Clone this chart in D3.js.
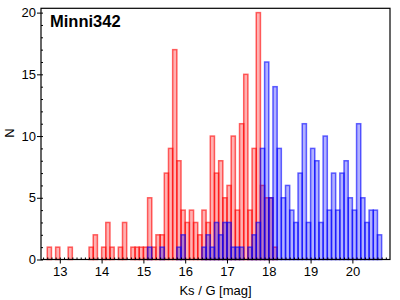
<!DOCTYPE html>
<html>
<head>
<meta charset="utf-8">
<script src="https://cdn.jsdelivr.net/npm/d3@7"></script>
<style>
  body { margin: 0; background: #fff; }
  text { font-family: "Liberation Sans", Arial, sans-serif; }
</style>
</head>
<body>
<script>
// Histogram values (bin width 0.1 mag, left bin edges)
var binWidth = 0.1;

var ksEdges  = [12.7, 12.9, 13.2, 13.7, 13.8, 14.0, 14.1, 14.2, 14.4, 14.5, 14.7, 14.8, 14.9, 15.0,
                15.1, 15.2, 15.3, 15.4, 15.5, 15.6, 15.7, 15.8, 15.9, 16.0, 16.1, 16.2, 16.3, 16.4,
                16.5, 16.6, 16.7, 16.8, 16.9, 17.0, 17.1, 17.2, 17.3, 17.4, 17.5, 17.6, 17.7, 17.8,
                17.9, 18.0, 18.1];
var ksCounts = [1, 1, 1, 1, 2, 1, 3, 1, 1, 3, 1, 1, 1, 1,
                5, 1, 2, 2, 7, 9, 17, 8, 4, 3, 4, 3, 2, 4,
                3, 10, 7, 8, 5, 6, 10, 4, 11, 15, 4, 9, 20, 6,
                5, 5, 1];

var gEdges  = [15.1, 15.4, 15.8, 15.9, 16.4, 16.5, 16.6, 16.7, 16.8, 16.9, 17.0, 17.1, 17.2, 17.3,
               17.5, 17.6, 17.7, 17.8, 17.9, 18.0, 18.1, 18.2, 18.3, 18.4, 18.5, 18.6, 18.7, 18.8,
               18.9, 19.0, 19.1, 19.2, 19.3, 19.4, 19.5, 19.6, 19.7, 19.8, 19.9, 20.0, 20.1, 20.2,
               20.3, 20.4, 20.5, 20.6];
var gCounts = [1, 1, 1, 2, 1, 2, 1, 3, 2, 3, 3, 1, 1, 1,
               1, 2, 3, 9, 16, 5, 14, 9, 5, 6, 4, 3, 7, 11,
               3, 9, 8, 3, 10, 4, 7, 4, 7, 8, 5, 4, 11, 5,
               3, 4, 4, 2];

var xTicks = [13, 14, 15, 16, 17, 18, 19, 20];
var yTicks = [0, 5, 10, 15, 20];

var width = 400, height = 300;
var plot = {left: 41, right: 390, top: 8.3, bottom: 259.5};

var svg = d3.select("body")
  .append("svg")
  .attr("width", width)
  .attr("height", height);

var x_Scale = d3.scaleLinear()
  .domain([12.55, 20.9])
  .range([plot.left, plot.right]);

var y_Scale = d3.scaleLinear()
  .domain([0, 20.35])
  .range([plot.bottom, plot.top]);

// draw one histogram series
function drawBars(edges, counts, fill, stroke) {
  var data = edges.map(function(e, i) { return {edge: e, n: counts[i]}; });
  svg.append("g")
    .selectAll("rect")
    .data(data)
    .enter()
    .append("rect")
    .attr("x", function(d) { return x_Scale(d.edge); })
    .attr("width", function(d) { return x_Scale(d.edge + binWidth) - x_Scale(d.edge); })
    .attr("y", function(d) { return y_Scale(d.n); })
    .attr("height", function(d) { return y_Scale(0) - y_Scale(d.n); })
    .attr("fill", fill)
    .attr("stroke", stroke)
    .attr("stroke-width", 1.5);
}

drawBars(ksEdges, ksCounts, "rgba(255,0,0,0.3)", "rgba(255,0,0,0.6)");
drawBars(gEdges, gCounts, "rgba(0,0,255,0.3)", "rgba(0,0,255,0.6)");

// minor ticks (inside)
var minorX = d3.range(126, 209).map(function(v) { return v / 10; });
svg.append("g")
  .attr("transform", `translate(0, ${plot.bottom})`)
  .call(d3.axisBottom(x_Scale).tickValues(minorX).tickSize(-2).tickFormat(""))
  .call(function(g) { g.select(".domain").remove(); });

svg.append("g")
  .attr("transform", `translate(${plot.left}, 0)`)
  .call(d3.axisLeft(y_Scale).tickValues(d3.range(0, 21)).tickSize(-2).tickFormat(""))
  .call(function(g) { g.select(".domain").remove(); });

// major ticks (outside) with labels
var x_Axis = svg.append("g")
  .attr("transform", `translate(0, ${plot.bottom})`)
  .call(d3.axisBottom(x_Scale).tickValues(xTicks).tickSize(4).tickPadding(3));

var y_Axis = svg.append("g")
  .attr("transform", `translate(${plot.left}, 0)`)
  .call(d3.axisLeft(y_Scale).tickValues(yTicks).tickSize(4).tickPadding(1));

svg.selectAll(".tick text")
  .style("font-size", "13px")
  .style("font-family", "Liberation Sans, Arial, sans-serif")
  .attr("fill", "#000");
svg.selectAll(".domain").remove();

// frame
svg.append("rect")
  .attr("x", plot.left)
  .attr("y", plot.top)
  .attr("width", plot.right - plot.left)
  .attr("height", plot.bottom - plot.top)
  .attr("fill", "none")
  .attr("stroke", "black")
  .attr("stroke-width", 1.2);

// labels
svg.append("text")
  .attr("x", 50)
  .attr("y", 26.7)
  .style("font-size", "16.5px")
  .style("font-weight", "bold")
  .text("Minni342");

svg.append("text")
  .attr("x", (plot.left + plot.right) / 2)
  .attr("y", 295)
  .attr("text-anchor", "middle")
  .style("font-size", "13px")
  .text("Ks / G [mag]");

svg.append("text")
  .attr("transform", "translate(14, 133) rotate(-90)")
  .attr("text-anchor", "middle")
  .style("font-size", "13px")
  .text("N");
</script>
</body>
</html>
